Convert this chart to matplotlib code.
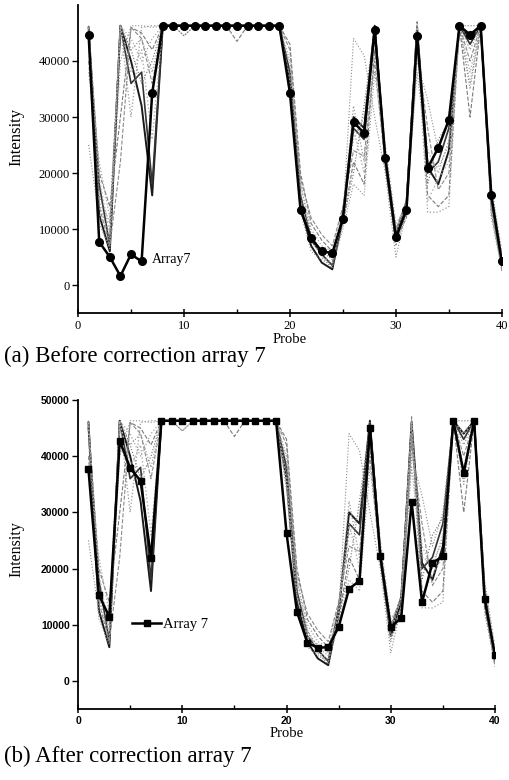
import matplotlib
matplotlib.use("Agg")
import matplotlib.pyplot as plt
from matplotlib.ticker import MultipleLocator

probes = list(range(1, 41))

array7_before = [44700, 7700, 5000, 1600, 5500, 4200, 34300,
                 46300, 46300, 46300, 46300, 46300, 46300, 46300, 46300, 46300, 46300, 46300, 46300,
                 34300, 13400, 8400, 6000, 5700, 11800, 29100, 27100, 45600, 22700, 8500,
                 13400, 44500, 20900, 24500, 29500, 46300, 44700, 46300, 16000, 4200]

array7_after = [37700, 15300, 11400, 42700, 37900, 35600, 21900,
                46300, 46300, 46300, 46300, 46300, 46300, 46300, 46300, 46300, 46300, 46300, 46300,
                26300, 12300, 6800, 5900, 6000, 9600, 16400, 17800, 45000, 22200, 9600,
                11200, 31900, 14000, 21000, 22200, 46300, 37000, 46300, 14600, 4600]

other_arrays = [
    [46000, 12500, 6000, 46300, 40000, 32000, 16000,
     46300, 46300, 46300, 46300, 46300, 46300, 46300, 46300, 46300, 46300, 46300, 46300,
     36000, 14000, 7000, 4000, 2800, 12000, 30000, 28000, 46300, 22000, 8000,
     14000, 46000, 21000, 18000, 24000, 46300, 44000, 46300, 16000, 3500],
    [45000, 18000, 7000, 46300, 36000, 38000, 18000,
     46300, 46300, 46300, 46300, 46300, 46300, 46300, 46300, 46300, 46300, 46300, 46300,
     38000, 16000, 8000, 5500, 3500, 13000, 28000, 26000, 46000, 23000, 9000,
     15000, 45000, 20000, 22000, 28000, 46300, 43000, 46300, 15000, 4000],
    [25000, 12000, 10000, 46300, 42000, 44000, 38000,
     46300, 46300, 44500, 46300, 46300, 46300, 46300, 46300, 46300, 46300, 46300, 46300,
     40000, 18000, 9000, 6000, 4500, 12000, 44000, 41000, 30000, 20000, 5000,
     13000, 40000, 33000, 24000, 30000, 46300, 35000, 46300, 18000, 5500],
    [46000, 20000, 14000, 30000, 46000, 45000, 42000,
     46300, 46300, 46300, 46300, 46300, 46300, 46300, 43500, 46300, 46300, 46300, 46300,
     43000, 20000, 11000, 8000, 6000, 11000, 22000, 18000, 42000, 24000, 10000,
     15000, 47000, 16000, 14000, 16000, 46300, 30000, 46300, 13000, 3000],
    [44000, 15000, 8000, 46300, 30000, 46000, 46300,
     46300, 46300, 46300, 46300, 46300, 46300, 46300, 46300, 46300, 46300, 46300, 46300,
     35000, 15000, 8000, 6500, 5000, 13000, 32000, 22000, 44000, 22000, 9000,
     13000, 44000, 13000, 13000, 14000, 46300, 42000, 46300, 15000, 5000],
    [38000, 22000, 12000, 46300, 44000, 40000, 44000,
     46300, 46300, 46300, 46300, 46300, 46300, 46300, 46300, 46300, 46300, 46300, 46300,
     39000, 18000, 10000, 7000, 6000, 14000, 26000, 30000, 45000, 25000, 11000,
     14000, 43000, 24000, 20000, 26000, 46300, 38000, 46300, 17000, 4500],
    [46300, 16000, 11000, 46300, 42000, 36000, 40000,
     46300, 46300, 44500, 46300, 46300, 46300, 46300, 46300, 46300, 46300, 46300, 46300,
     37000, 16000, 9000, 5000, 3000, 11000, 20000, 32000, 46000, 22000, 7000,
     13000, 46000, 18000, 26000, 29000, 46300, 46300, 46300, 16000, 3500],
    [40000, 14000, 7000, 22000, 46000, 44000, 36000,
     46300, 46300, 46300, 46300, 46300, 46300, 46300, 46300, 46300, 46300, 46300, 46300,
     42000, 19000, 12000, 9000, 7000, 14000, 24000, 23000, 40000, 21000, 8000,
     12000, 42000, 28000, 17000, 20000, 46300, 40000, 46300, 14000, 2500],
    [46000, 19000, 9000, 46300, 38000, 42000, 26000,
     46300, 46300, 46300, 46300, 46300, 46300, 46300, 46300, 46300, 46300, 46300, 46300,
     36000, 15000, 8000, 5000, 4000, 12000, 28000, 20000, 44000, 24000, 9000,
     15000, 46000, 15000, 19000, 22000, 46300, 44000, 46300, 17000, 6000],
    [43000, 11000, 6500, 40000, 46300, 46300, 46000,
     46300, 46300, 46300, 46300, 46300, 46300, 46300, 46300, 46300, 46300, 46300, 46300,
     34000, 13000, 6000, 4500, 3500, 10000, 18000, 16000, 38000, 23000, 10000,
     14000, 38000, 22000, 21000, 25000, 46300, 36000, 46300, 12000, 3000],
]

other_styles = [
    dict(color="#1a1a1a", lw=1.4, ls="-"),
    dict(color="#333333", lw=1.2, ls="-"),
    dict(color="#8c8c8c", lw=0.8, ls=":"),
    dict(color="#7a7a7a", lw=0.8, ls="--"),
    dict(color="#999999", lw=0.9, ls=":"),
    dict(color="#a6a6a6", lw=0.9, ls=":"),
    dict(color="#6e6e6e", lw=0.8, ls=":"),
    dict(color="#8a8a8a", lw=0.8, ls="--"),
    dict(color="#b0b0b0", lw=1.0, ls=":"),
    dict(color="#959595", lw=0.8, ls=":"),
]

y_ticks = [0, 10000, 20000, 30000, 40000]
y_ticks_b = [0, 10000, 20000, 30000, 40000, 50000]
x_ticks = [0, 10, 20, 30, 40]

serif = ["Liberation Serif", "DejaVu Serif"]
sans = ["Liberation Sans", "DejaVu Sans"]

fig = plt.figure(figsize=(5.1, 7.8), dpi=100)
ax1 = fig.add_axes([0.153, 0.5987, 0.831, 0.3949])
ax2 = fig.add_axes([0.153, 0.0910, 0.8176, 0.3962])

for ax in (ax1, ax2):
    for series, st in zip(other_arrays, other_styles):
        ax.plot(probes, series, zorder=2, **st)
    ax.set_xlim(0, 40)
    ax.set_ylim(-5000, 50000)
    for s in ("top", "right"):
        ax.spines[s].set_visible(False)
    for s in ("left", "bottom"):
        ax.spines[s].set_linewidth(1.3)
    ax.set_xticks(x_ticks)
    ax.xaxis.set_minor_locator(MultipleLocator(5))
    ax.tick_params(axis="x", which="major", direction="inout", length=6, width=1.1, pad=2)
    ax.tick_params(axis="x", which="minor", direction="in", length=3, width=1.0)
    ax.tick_params(axis="y", which="major", direction="out", length=4, width=1.0, pad=2)

# top panel
ax1.plot(probes, array7_before, color="black", lw=1.8, marker="o", ms=5.5, zorder=5)
ax1.set_yticks(y_ticks)
ax1.set_xticklabels([str(v) for v in x_ticks], family=serif, fontsize=9)
ax1.set_yticklabels([str(v) for v in y_ticks], family=serif, fontsize=9)
ax1.set_ylabel("Intensity", family=serif, fontsize=12)
ax1.yaxis.set_label_coords(-0.126, 0.571)
ax1.set_xlabel("Probe", family=serif, fontsize=10.5, labelpad=1)
ax1.text(7.0, 4500, "Array7", family=serif, fontsize=10, va="center", ha="left")

# bottom panel
line7, = ax2.plot(probes, array7_after, color="black", lw=1.8, marker="s", ms=5, zorder=5)
ax2.set_yticks(y_ticks_b)
ax2.set_xticklabels([str(v) for v in x_ticks], family=sans, fontsize=7.5, fontweight="bold")
ax2.set_yticklabels([str(v) for v in y_ticks_b], family=sans, fontsize=7.5, fontweight="bold")
ax2.set_ylabel("Intensity", family=serif, fontsize=11.5)
ax2.yaxis.set_label_coords(-0.128, 0.518)
ax2.set_xlabel("Probe", family=serif, fontsize=10.5, labelpad=1)
ax2.legend([line7], ["Array 7"], loc="center left", bbox_to_anchor=(0.13, 0.275),
           frameon=False, handlelength=2.0, handletextpad=0.1, borderpad=0, borderaxespad=0,
           prop={"family": serif, "size": 10.5})

fig.text(0.008, 0.543, "(a) Before correction array 7", family=serif, fontsize=16.5,
         ha="left", va="center")
fig.text(0.008, 0.030, "(b) After correction array 7", family=serif, fontsize=16.5,
         ha="left", va="center")

fig.savefig("out.png", dpi=100)
